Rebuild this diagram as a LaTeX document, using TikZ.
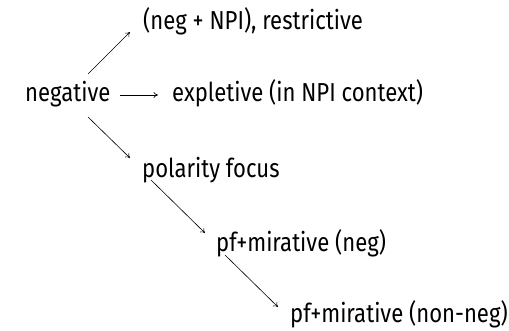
\documentclass[tikz,border=0pt]{standalone}
\usepackage{fontspec}
\setmainfont{Fira Sans}[FakeStretch=0.85]
\usetikzlibrary{arrows.meta}

\begin{document}
\begin{tikzpicture}[
    x=1pt, y=1pt,
    term/.style={anchor=base west, inner sep=0pt, font=\fontsize{26}{30}\selectfont},
    edge/.style={-{To[length=4.5pt,width=6pt]}, line width=0.6pt, draw=black},
]
\useasboundingbox (0,0) rectangle (509,331);

% Source
\node[term] (neg) at (25, 229) {negative};

% Readings
\node[term] (npi) at (143, 301) {(neg + NPI), restrictive};
\node[term] (expl) at (172, 229) {expletive (in NPI context)};
\node[term] (pol) at (142, 153) {polarity focus};

% Mirative chain
\node[term] (mirneg) at (216, 79) {pf+mirative (neg)};
\node[term] (mirnon) at (290, 8) {pf+mirative (non-neg)};

\draw[edge] ([shift={(63,28)}]neg.base west) -- ([shift={(-13,-2)}]npi.base west);
\draw[edge] ([shift={(95,7)}]neg.base west) -- ([shift={(-14,7)}]expl.base west);
\draw[edge] ([shift={(63,-15)}]neg.base west) -- ([shift={(-12,20)}]pol.base west);
\draw[edge] ([shift={(9,-2)}]pol.base west) -- ([shift={(-11,19)}]mirneg.base west);
\draw[edge] ([shift={(9,-3)}]mirneg.base west) -- ([shift={(-12,16)}]mirnon.base west);

\end{tikzpicture}
\end{document}
